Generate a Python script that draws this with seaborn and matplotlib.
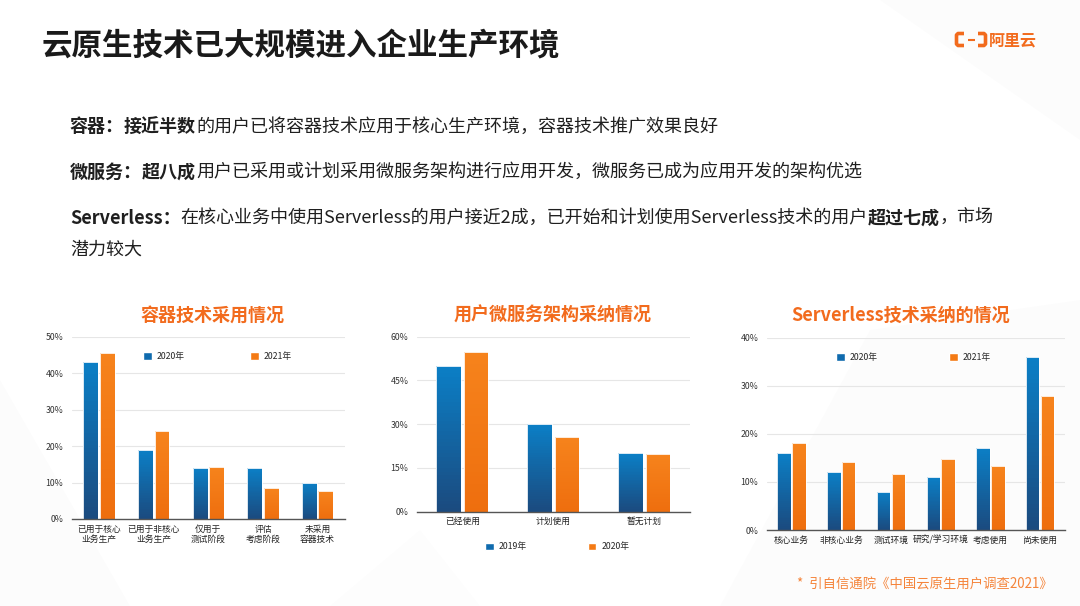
import numpy as np
import pandas as pd
import matplotlib
matplotlib.use("Agg")
import matplotlib.pyplot as plt
from matplotlib.patches import Polygon
from matplotlib.colors import LinearSegmentedColormap
import seaborn as sns

# ---- data ----
cats1 = ["已用于核心\n业务生产", "已用于非核心\n业务生产", "仅用于\n测试阶段", "评估\n考虑阶段", "未采用\n容器技术"]
c1_2020 = [43, 19, 14, 14, 10]
c1_2021 = [45.5, 24, 14.2, 8.6, 7.7]
years1 = ["2020年", "2021年"]
ticks1 = [0, 10, 20, 30, 40, 50]

cats2 = ["已经使用", "计划使用", "暂无计划"]
c2_2019 = [50, 30, 20]
c2_2020 = [54.7, 25.5, 19.7]
years2 = ["2019年", "2020年"]
ticks2 = [0, 15, 30, 45, 60]

cats3 = ["核心业务", "非核心业务", "测试环境", "研究/学习环境", "考虑使用", "尚未使用"]
c3_2020 = [16, 12, 8, 11, 17, 36]
c3_2021 = [18, 14.2, 11.7, 14.8, 13.3, 27.8]
years3 = ["2020年", "2021年"]
ticks3 = [0, 10, 20, 30, 40]

ORANGE = "#F26B1D"
BLUE = "#0F6BAE"
ORANGE_BAR = "#F47A14"

sns.set_theme(style="white")
plt.rcParams["font.family"] = ["Noto Sans CJK SC", "DejaVu Sans"]

W, H = 1080, 606
fig = plt.figure(figsize=(W / 100, H / 100), dpi=100)
fig.patch.set_facecolor("white")

# overlay in pixel coordinates
ov = fig.add_axes([0, 0, 1, 1], zorder=0)
ov.set_xlim(0, W)
ov.set_ylim(H, 0)
ov.axis("off")

# faint background shapes
for pts, a in [([(0, 606), (0, 380), (130, 606)], 0.025),
               ([(720, 606), (870, 330), (1080, 300), (1080, 606)], 0.018),
               ([(880, 0), (1080, 0), (1080, 140)], 0.025),
               ([(330, 606), (480, 606), (420, 530)], 0.015)]:
    ov.add_patch(Polygon(pts, closed=True, color="#888888", alpha=a, lw=0))

# title
ov.text(42, 45, "云原生技术已大规模进入企业生产环境", fontsize=22, fontweight="bold",
        color="#1a1a1a", va="center", ha="left")

# logo
lw = 2.6
ov.plot([964, 958, 956.5, 956.5, 958, 964], [33.5, 33.5, 35, 44, 45.5, 45.5], color=ORANGE, lw=lw,
        solid_capstyle="butt", solid_joinstyle="round")
ov.plot([978, 984, 985.5, 985.5, 984, 978], [33.5, 33.5, 35, 44, 45.5, 45.5], color=ORANGE, lw=lw,
        solid_capstyle="butt", solid_joinstyle="round")
ov.plot([967.5, 974.5], [39.5, 39.5], color=ORANGE, lw=1.5, solid_capstyle="butt")
ov.text(989, 40, "阿里云", fontsize=11.5, fontweight="bold", color=ORANGE, va="center", ha="left")

renderer = fig.canvas.get_renderer()


def rich(x, y, parts, size=13):
    for s, bold in parts:
        t = ov.text(x, y, s, fontsize=size, fontweight="bold" if bold else "normal",
                    color="#1f1f1f", va="center", ha="left")
        x += t.get_window_extent(renderer).width


rich(70, 127, [("容器：", True), ("接近半数", True), ("的用户已将容器技术应用于核心生产环境，容器技术推广效果良好", False)])
rich(70, 172, [("微服务：", True), ("超八成", True), ("用户已采用或计划采用微服务架构进行应用开发，微服务已成为应用开发的架构优选", False)])
rich(70, 218, [("Serverless：", True), ("在核心业务中使用Serverless的用户接近2成，已开始和计划使用Serverless技术的用户", False),
               ("超过七成", True), ("，市场", False)])
rich(70, 250, [("潜力较大", False)])

ov.text(797, 585, "*  引自信通院《中国云原生用户调查2021》", fontsize=9.6, color="#F5843A",
        va="center", ha="left")


def frac_box(l, r, b, t):
    return [l / W, 1 - b / H, (r - l) / W, (b - t) / H]


cm_b = LinearSegmentedColormap.from_list("b", ["#1B4A7E", "#0B7FC6"])
cm_o = LinearSegmentedColormap.from_list("o", ["#EE6E0E", "#F6831C"])
N_SLICES = 40


def gradient_bars(ax):
    # shade each seaborn bar from dark (bottom) to light (top) with thin slices
    for p in list(ax.patches):
        h = p.get_height()
        if h <= 0:
            continue
        x0, w = p.get_x(), p.get_width()
        cx = x0 + w / 2
        cmap = cm_b if cx < np.round(cx) else cm_o
        frac = np.arange(N_SLICES) / N_SLICES
        ax.bar(np.full(N_SLICES, cx), np.full(N_SLICES, h / N_SLICES * 1.02), width=w,
               bottom=frac * h, color=cmap(frac + 0.5 / N_SLICES), linewidth=0,
               antialiased=False, zorder=3)
        p.set_edgecolor("#ffffff")
        p.set_linewidth(0.6)
        p.set_zorder(3.5)
        p.set_facecolor("none")


def chart(box, cats, v1, v2, years, ticks, title, title_x, leg_xy, colsp):
    ax = fig.add_axes(frac_box(*box), zorder=2)
    ax.patch.set_alpha(0)
    df = pd.DataFrame({"cat": cats * 2, "val": v1 + v2,
                       "year": [years[0]] * len(cats) + [years[1]] * len(cats)})
    sns.barplot(data=df, x="cat", y="val", hue="year", hue_order=years,
                palette=[BLUE, ORANGE_BAR], width=0.6, gap=0.1, ax=ax, saturation=1,
                errorbar=None)
    handles, labels = ax.get_legend_handles_labels()
    gradient_bars(ax)
    ax.set_xlim(-0.5, len(cats) - 0.5)
    ax.set_ylim(0, ticks[-1])
    ax.set_yticks(ticks)
    ax.set_yticklabels([f"{t}%" for t in ticks], fontsize=6.3, color="#333333")
    ax.tick_params(axis="x", labelsize=6.3, labelcolor="#222222", length=0, pad=4)
    ax.tick_params(axis="y", length=0, pad=6)
    ax.set_xlabel("")
    ax.set_ylabel("")
    ax.grid(axis="y", color="#e6e6e6", lw=0.8)
    ax.set_axisbelow(True)
    for s in ["top", "right", "left"]:
        ax.spines[s].set_visible(False)
    ax.spines["bottom"].set_color("#555555")
    ax.spines["bottom"].set_linewidth(1.0)
    ax.spines["bottom"].set_zorder(5)
    ax.legend(handles, labels, ncol=2, frameon=False, fontsize=6.3,
              handlelength=1.0, handleheight=1.0, handletextpad=0.6, columnspacing=colsp,
              loc="center left", borderpad=0, borderaxespad=0,
              bbox_to_anchor=(leg_xy[0] / W, 1 - leg_xy[1] / H), bbox_transform=fig.transFigure)
    ov.text(title_x, 315, title, fontsize=13, fontweight="bold", color=ORANGE,
            ha="center", va="center")
    return ax


chart((71.7, 345, 519, 336.7), cats1, c1_2020, c1_2021, years1, ticks1,
      "容器技术采用情况", 212.5, (143, 356.5), 7.4)
chart((416.7, 690, 511.7, 336.7), cats2, c2_2019, c2_2020, years2, ticks2,
      "用户微服务架构采纳情况", 553, (485, 547), 6.9)
chart((766.7, 1065, 530, 337.7), cats3, c3_2020, c3_2021, years3, ticks3,
      "Serverless技术采纳的情况", 901, (836, 357.5), 8.1)

fig.savefig("out.png", dpi=100, facecolor="white")
